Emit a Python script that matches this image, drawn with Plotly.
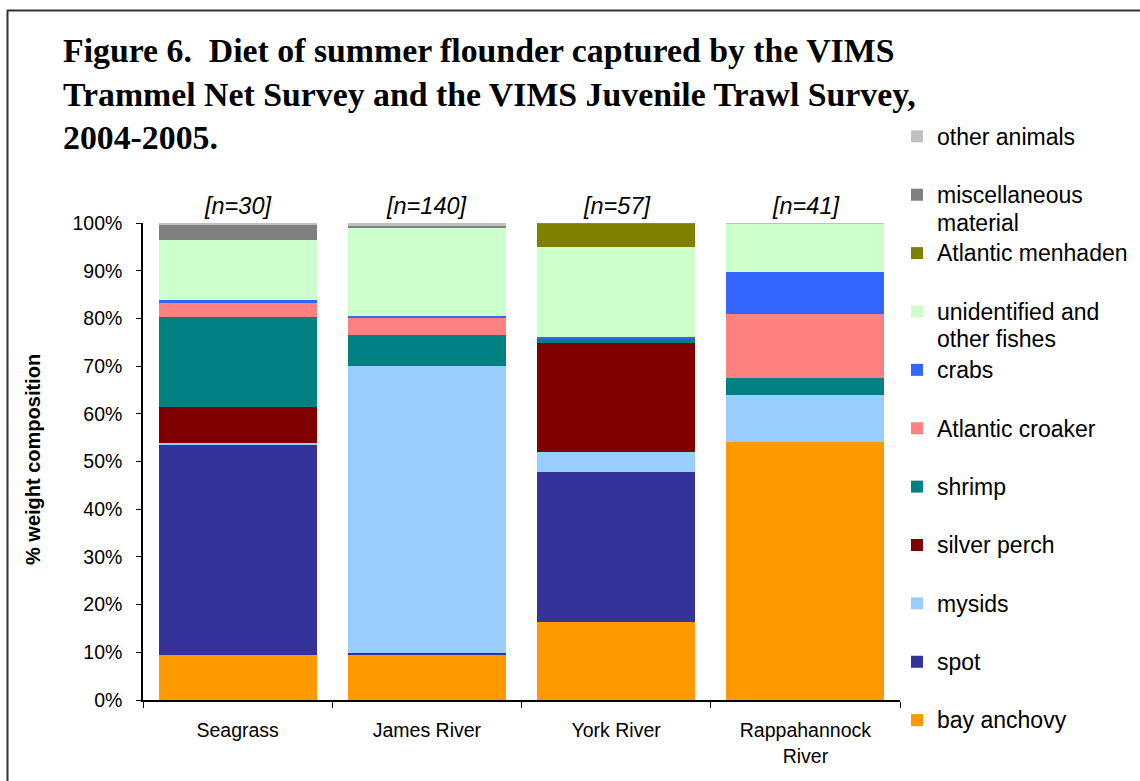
import plotly.graph_objects as go

sites = ["Seagrass", "James River", "York River", "Rappahannock<br>River"]
n_counts = [30, 140, 57, 41]

# bottom-to-top stacking order
bay_anchovy = [9.4, 9.4, 16.3, 54.0]
spot = [44.2, 0.5, 31.6, 0.0]
mysids = [0.2, 60.1, 4.0, 9.9]
silver_perch = [7.6, 0.0, 22.9, 0.0]
shrimp = [18.8, 6.5, 0.8, 3.7]
atlantic_croaker = [3.0, 3.7, 0.0, 13.3]
crabs = [0.7, 0.3, 0.6, 8.8]
unidentified_fishes = [12.6, 18.5, 18.7, 10.1]
atlantic_menhaden = [0.0, 0.0, 5.0, 0.0]
misc_material = [3.1, 0.3, 0.1, 0.0]
other_animals = [0.4, 0.7, 0.0, 0.2]

series = [
    (["bay anchovy", " "], bay_anchovy, "#FF9900"),
    (["spot", " "], spot, "#333399"),
    (["mysids", " "], mysids, "#99CCFF"),
    (["silver perch", " "], silver_perch, "#800000"),
    (["shrimp", " "], shrimp, "#008080"),
    (["Atlantic croaker", " "], atlantic_croaker, "#FF8080"),
    (["crabs", " "], crabs, "#3366FF"),
    (["unidentified and", "other fishes"], unidentified_fishes, "#CCFFCC"),
    (["Atlantic menhaden", " "], atlantic_menhaden, "#808000"),
    (["miscellaneous", "material"], misc_material, "#808080"),
    (["other animals", " "], other_animals, "#C0C0C0"),
]

fig = go.Figure()
for lines, vals, color in series:
    label = "<br>".join(f"<span style='font-size:23px'>{ln}</span>" for ln in lines)
    fig.add_trace(go.Bar(
        x=sites, y=vals, name=label,
        marker=dict(color=color, line=dict(width=0)),
    ))

W, H = 1140, 781
L, R, T, B = 143, 240, 223, 81
pw, ph = W - L - R, H - T - B

def px(xp):
    return (xp - L) / pw

def py(yp):
    return (H - B - yp) / ph

annotations = []
for s, n in zip(sites, n_counts):
    annotations.append(dict(
        x=s, y=1, xref="x", yref="paper", yanchor="bottom", yshift=2,
        text=f"<i>[n={n}]</i>", showarrow=False,
        font=dict(family="Liberation Sans, Arial", size=23.5, color="black"),
    ))

title_lines = [
    "Figure 6.&nbsp; Diet of summer flounder captured by the VIMS",
    "Trammel Net Survey and the VIMS Juvenile Trawl Survey,",
    "2004-2005.",
]
for i, line in enumerate(title_lines):
    annotations.append(dict(
        x=px(61), y=py(51 + 43 * i), xref="paper", yref="paper",
        xanchor="left", yanchor="middle", text=f"<b>{line}</b>",
        showarrow=False,
        font=dict(family="Liberation Serif, Times New Roman", size=33.8, color="black"),
    ))

annotations.append(dict(
    x=px(33), y=py(460), xref="paper", yref="paper", textangle=-90,
    xanchor="center", yanchor="middle",
    text="<b>% weight composition</b>", showarrow=False,
    font=dict(family="Liberation Sans, Arial", size=20, color="black"),
))

fig.update_layout(
    width=W, height=H,
    margin=dict(l=L, r=R, t=T, b=B, autoexpand=False),
    barmode="stack", bargap=0.165,
    plot_bgcolor="white", paper_bgcolor="white",
    font=dict(family="Liberation Sans, Arial", size=19, color="black"),
    showlegend=True,
    legend=dict(
        traceorder="reversed", x=px(897), y=py(116), xanchor="left", yanchor="top",
        font=dict(family="Liberation Sans, Arial", size=21.3, color="black"),
        valign="top", itemwidth=30, bgcolor="rgba(0,0,0,0)", maxheight=1,
        entrywidth=160,
    ),
    xaxis=dict(
        showline=True, linecolor="black", linewidth=1.5,
        ticks="outside", tickson="boundaries", ticklen=6, tickcolor="black",
        showgrid=False, tickfont=dict(size=19.5), ticklabelstandoff=12,
    ),
    yaxis=dict(
        range=[0, 100], dtick=10, ticksuffix="%",
        showline=True, linecolor="black", linewidth=1.5,
        ticks="outside", ticklen=5, tickcolor="black",
        showgrid=False, zeroline=False, tickfont=dict(size=19.5),
        ticklabelstandoff=10,
    ),
    annotations=annotations,
    shapes=[
        dict(type="line", xref="paper", yref="paper", x0=px(7), x1=px(1140),
             y0=py(10.5), y1=py(10.5), line=dict(color="#333333", width=2)),
        dict(type="line", xref="paper", yref="paper", x0=px(7.5), x1=px(7.5),
             y0=py(10), y1=py(781), line=dict(color="#333333", width=2)),
    ],
)

fig.write_html(
    "out.html",
    config={"displayModeBar": False},
    post_script="document.body.style.margin='0';document.body.style.overflow='hidden';",
)
